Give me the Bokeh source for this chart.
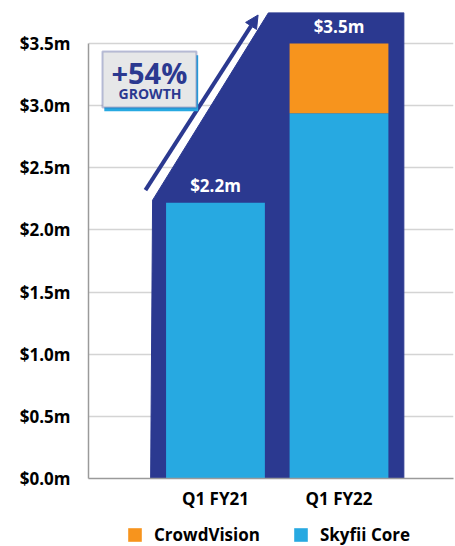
from bokeh.plotting import figure
from bokeh.layouts import column
from bokeh.models import (Range1d, FixedTicker, Legend, LegendItem, Arrow, NormalHead,
                          BoxAnnotation, ColumnDataSource, Label)
from bokeh.core.properties import value
from bokeh.embed import file_html
from bokeh.resources import INLINE

# ---- data ----
categories = ["Q1 FY21", "Q1 FY22"]
skyfii_core = [2.22, 2.94]
crowdvision = [0.0, 0.56]
totals_label = ["$2.2m", "$3.5m"]
y_ticks = [0.0, 0.5, 1.0, 1.5, 2.0, 2.5, 3.0, 3.5]
y_tick_labels = ["$0.0m", "$0.5m", "$1.0m", "$1.5m", "$2.0m", "$2.5m", "$3.0m", "$3.5m"]
series_names = ["CrowdVision", "Skyfii Core"]
growth_text = "+54%"
growth_sub = "GROWTH"

NAVY = "#2b3990"
SKY = "#27a9e1"
ORANGE = "#f7941d"
FONT = "Open Sans"

xs = list(range(len(categories)))
totals = [a + b for a, b in zip(skyfii_core, crowdvision)]

p = figure(width=455, height=512, output_backend="svg", toolbar_location=None,
           x_range=Range1d(-1.028, 1.927), y_range=Range1d(0, 3.75),
           min_border_left=88, min_border_right=2, min_border_top=12, min_border_bottom=33)
p.outline_line_color = None
p.background_fill_color = "white"

# navy backdrop shape
bw = 0.8
pad = 0.125
x_left = xs[0] - bw / 2 - pad
x_right = xs[1] + bw / 2 + pad
shelf = skyfii_core[0] + 0.02
top = 3.75
diag_x = 0.43
p.patch([x_left, x_left + 0.016, diag_x, x_right, x_right],
        [0, shelf, top, top, 0], fill_color=NAVY, line_color=NAVY)

src = ColumnDataSource(dict(x=xs, sky=skyfii_core, cv=crowdvision,
                            tot=totals, lab=totals_label))
p.vbar(x="x", top="sky", bottom=0, width=bw, source=src,
       fill_color=SKY, line_color=None)
p.vbar(x="x", top="tot", bottom="sky", width=bw, source=src,
       fill_color=ORANGE, line_color=None)

p.text(x="x", y="tot", text="lab", source=src, y_offset=-17,
       text_align="center", text_baseline="middle", text_color="white",
       text_font=value(FONT), text_font_style="bold", text_font_size="17px")

# growth arrow
p.add_layout(Arrow(x_start=-0.567, y_start=2.32, x_end=0.345, y_end=3.73,
                   line_color=NAVY, line_width=4,
                   end=NormalHead(size=13, fill_color=NAVY, line_color=NAVY)))

# growth badge
p.add_layout(BoxAnnotation(left=-0.90, right=-0.14, top=3.405, bottom=2.955,
                           fill_color=SKY, fill_alpha=1, line_color=None))
p.add_layout(BoxAnnotation(left=-0.915, right=-0.154, top=3.436, bottom=2.986,
                           fill_color="#e6e7e8", fill_alpha=1, line_color=NAVY,
                           line_width=2))
p.add_layout(Label(x=-0.535, y=3.27, text=growth_text, text_align="center",
                   text_baseline="middle", text_color=NAVY, text_font=FONT,
                   text_font_style="bold", text_font_size="29px"))
p.add_layout(Label(x=-0.53, y=3.10, text=growth_sub, text_align="center",
                   text_baseline="middle", text_color=NAVY, text_font=FONT,
                   text_font_style="bold", text_font_size="14px"))

# grid & axes
p.xgrid.grid_line_color = None
p.ygrid.ticker = FixedTicker(ticks=y_ticks)
p.ygrid.grid_line_color = "#d4d4d4"
p.ygrid.grid_line_width = 1.5

p.yaxis.ticker = FixedTicker(ticks=y_ticks)
p.yaxis.major_label_overrides = {t: l for t, l in zip(y_ticks, y_tick_labels)}
p.yaxis.bounds = (0, 3.5)
p.xaxis.ticker = FixedTicker(ticks=xs)
p.xaxis.major_label_overrides = {x: c for x, c in zip(xs, categories)}
for ax in (p.xaxis[0], p.yaxis[0]):
    ax.axis_line_color = "#9a9a9a"
    ax.axis_line_width = 1.5
    ax.major_tick_line_color = None
    ax.minor_tick_line_color = None
    ax.major_tick_out = 0
    ax.major_tick_in = 0
    ax.major_label_text_font = FONT
    ax.major_label_text_font_style = "bold"
    ax.major_label_text_color = "black"
    ax.major_label_text_font_size = "17px"
p.yaxis.major_label_standoff = 18
p.xaxis.major_label_standoff = 8

# legend strip (second figure, bars kept out of its view)
pl = figure(width=455, height=34, output_backend="svg", toolbar_location=None,
            x_range=Range1d(0, 1), y_range=Range1d(100, 101),
            x_axis_location=None, y_axis_location=None,
            min_border_left=0, min_border_right=0, min_border_top=0, min_border_bottom=0)
pl.outline_line_color = None
pl.xgrid.grid_line_color = None
pl.ygrid.grid_line_color = None
l_cv = pl.vbar(x="x", top="cv", width=bw, source=src, fill_color=ORANGE, line_color=None)
l_sky = pl.vbar(x="x", top="sky", width=bw, source=src, fill_color=SKY, line_color=None)

legend = Legend(items=[LegendItem(label=series_names[0], renderers=[l_cv]),
                       LegendItem(label=series_names[1], renderers=[l_sky])],
                orientation="horizontal", location=(38, 0),
                label_text_font=FONT, label_text_font_style="bold",
                label_text_font_size="17px", label_text_color="black",
                glyph_width=17, glyph_height=17, label_height=17,
                label_standoff=11, spacing=32, padding=0, margin=0,
                border_line_color=None, background_fill_alpha=0)
pl.add_layout(legend)

layout = column(p, pl, spacing=0)
open("out.html", "w").write(file_html(layout, INLINE))
